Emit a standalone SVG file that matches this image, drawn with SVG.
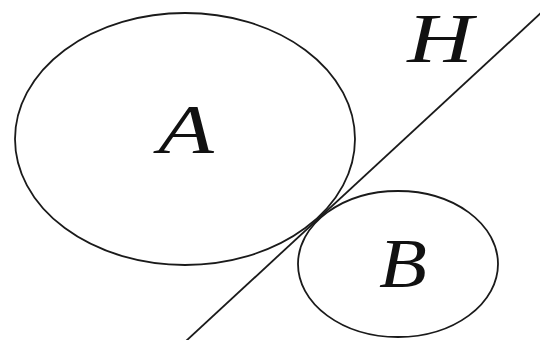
<svg xmlns="http://www.w3.org/2000/svg" width="540" height="340" viewBox="0 0 540 340">
<style>
.s{fill:none;stroke:#1a1a1a;stroke-width:1.8}
.t{font-family:"Liberation Serif",serif;font-style:italic;font-size:70px;fill:#111;text-anchor:middle}
</style>
<rect width="540" height="340" fill="#fff"/>
<g id="A"><ellipse class="s" cx="185" cy="139" rx="170" ry="126"/><text class="t" transform="translate(186,153) scale(1.3,1)">A</text></g>
<g id="B"><ellipse class="s" cx="398" cy="264" rx="100" ry="73"/><text class="t" transform="translate(403,287) scale(1.12,1)">B</text></g>
<g id="connectors"><line class="s" x1="186" y1="341" x2="542" y2="12"/></g>
<g id="H"><text class="t" transform="translate(440,62) scale(1.3,1)">H</text></g>
</svg>
